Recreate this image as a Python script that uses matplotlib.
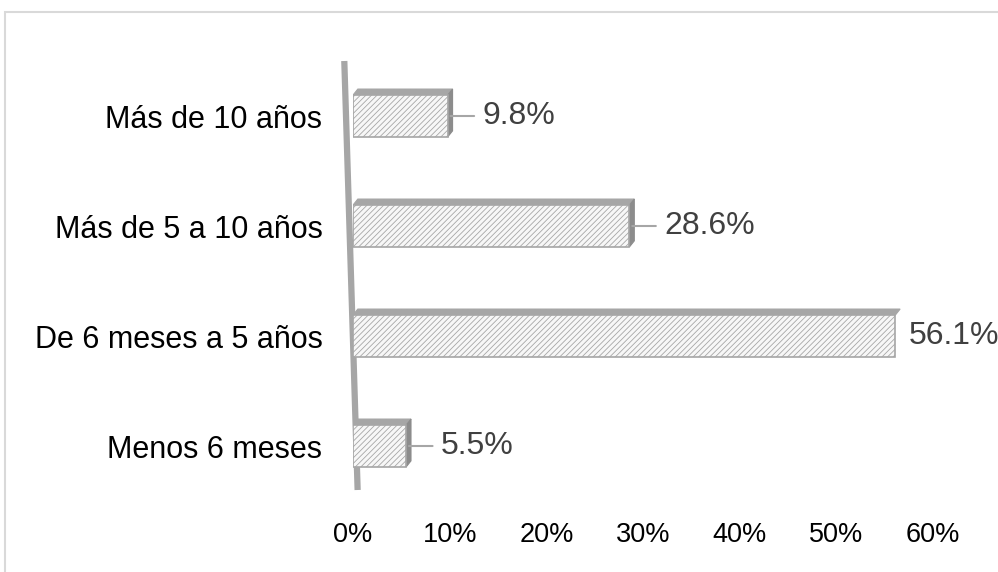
import matplotlib
matplotlib.use("Agg")
import matplotlib.pyplot as plt
from matplotlib.patches import Polygon, Rectangle

plt.rcParams['font.family'] = ['Liberation Sans', 'DejaVu Sans']
plt.rcParams['hatch.linewidth'] = 0.6

categories = ["Más de 10 años", "Más de 5 a 10 años", "De 6 meses a 5 años", "Menos 6 meses"]
values = [0.098, 0.286, 0.561, 0.055]
value_labels = ["9.8%", "28.6%", "56.1%", "5.5%"]
xticks = [0, 0.1, 0.2, 0.3, 0.4, 0.5, 0.6]
xtick_labels = ["0%", "10%", "20%", "30%", "40%", "50%", "60%"]

fig = plt.figure(figsize=(9.98, 5.72), dpi=100)
ax = fig.add_axes([353 / 998, 1 - 501 / 572, 580 / 998, 440 / 572])

ypos = list(range(len(categories)))
bar_h = 0.38
depth = 0.055  # visual depth (y units)
dx = 0.005     # visual depth (x units)
face = '#f7f7f7'
edge = '#a6a6a6'
dark = '#a6a6a6'

ax.barh(ypos, values, height=bar_h, color=face, edgecolor=edge, hatch='//////',
        linewidth=1.2, zorder=3)

for y, v in zip(ypos, values):
    yt = y - bar_h / 2
    yb = y + bar_h / 2
    top = Polygon([(0, yt), (v, yt), (v + dx, yt - depth), (dx, yt - depth)],
                  closed=True, facecolor=dark, edgecolor=dark, hatch='//////',
                  linewidth=0.8, zorder=2)
    ax.add_patch(top)
    if v < 0.5:
        side = Polygon([(v, yt), (v + dx, yt - depth), (v + dx, yb - depth), (v, yb)],
                       closed=True, facecolor='#8c8c8c', edgecolor='#8c8c8c',
                       linewidth=0.8, zorder=2)
        ax.add_patch(side)

# data labels
for y, v, lab in zip(ypos, values, value_labels):
    if v < 0.5:
        ax.annotate(lab, xy=(v, y), xytext=(25, 0), textcoords='offset points',
                    va='center', ha='left', fontsize=23, color='#404040', zorder=5)
        ax.annotate("", xy=(v, y), xytext=(19, 0), textcoords='offset points',
                    arrowprops=dict(arrowstyle='-', color='#a6a6a6', lw=1.5,
                                    shrinkA=0, shrinkB=2))
    else:
        ax.annotate(lab, xy=(v, y), xytext=(10, 0), textcoords='offset points',
                    va='center', ha='left', fontsize=23, color='#404040',
                    annotation_clip=False, zorder=5)

ax.set_xlim(0, 0.6)
ax.set_ylim(3.5, -0.5)
ax.set_xticks(xticks)
ax.set_xticklabels(xtick_labels, fontsize=19.5, color='#000000')
ax.set_yticks(ypos)
ax.set_yticklabels(categories, fontsize=22, color='#000000')
ax.tick_params(axis='x', length=0, pad=15)
ax.tick_params(axis='y', length=0, pad=22)
for s in ['top', 'right', 'bottom', 'left']:
    ax.spines[s].set_visible(False)
# slanted wall line of the 3D axis
ax.plot([-0.015, 0.008], [1.0, 0.025], transform=ax.transAxes,
        color='#a6a6a6', lw=4.5, clip_on=False, zorder=1, solid_capstyle='butt')

# chart border
fig.add_artist(Rectangle((5 / 998, -0.2), 1.2, 1.2 - 12 / 572, transform=fig.transFigure,
                         fill=False, edgecolor='#d9d9d9', lw=1.5))

fig.savefig("out.png", dpi=100)
